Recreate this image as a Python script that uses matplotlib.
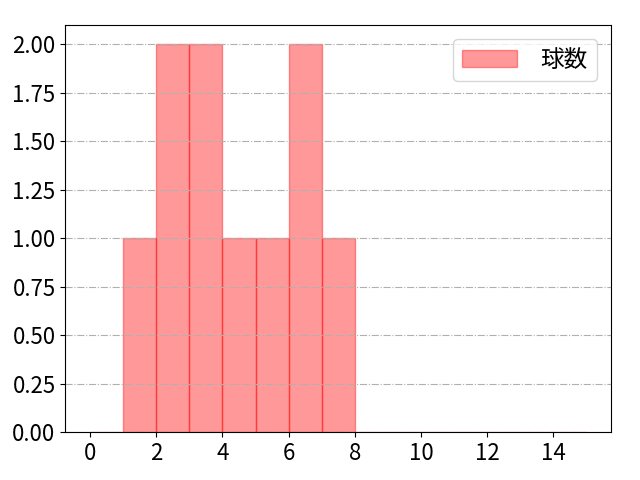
import matplotlib
matplotlib.use("Agg")
import matplotlib.pyplot as plt
from matplotlib.ticker import MultipleLocator, FormatStrFormatter

plt.rcParams['font.family'] = ['Noto Sans CJK JP', 'DejaVu Sans']
plt.rcParams['font.size'] = 16

# 球数データ（ヒストグラムの元データ）
pitch_values = [1, 2, 2, 3, 3, 4, 5, 6, 6, 7]
bin_edges = list(range(0, 16))
legend_label = "球数"

fig, ax = plt.subplots(figsize=(6.4, 4.8), dpi=100)
ax.hist(pitch_values, bins=bin_edges, color="red", alpha=0.4,
        edgecolor="red", label=legend_label)
ax.grid(axis="y", linestyle="-.", color="#b0b0b0", linewidth=0.8)
ax.xaxis.set_major_locator(MultipleLocator(2))
ax.yaxis.set_major_formatter(FormatStrFormatter("%.2f"))
ax.legend(loc="upper right", fontsize=17, handlelength=2.3,
          handletextpad=1.0, borderaxespad=0.6)
fig.subplots_adjust(left=0.102, right=0.955, top=0.948, bottom=0.1)
fig.savefig("out.png")
